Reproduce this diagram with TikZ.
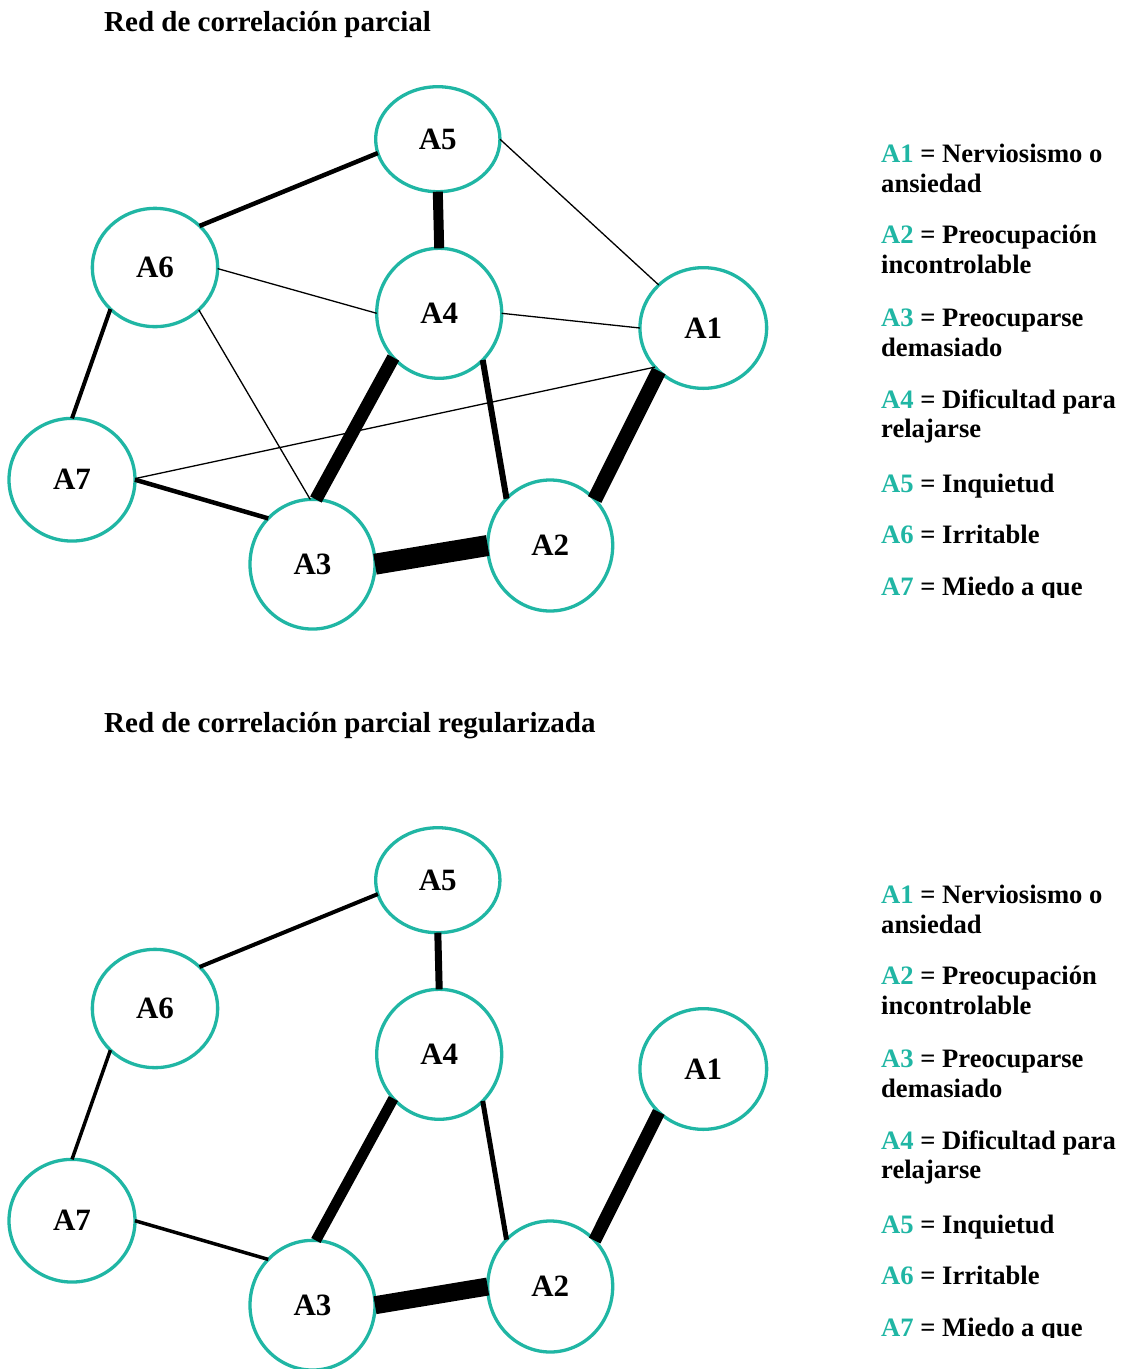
\documentclass[tikz,border=0pt]{standalone}
\usepackage{fontspec}
\setmainfont{Liberation Serif}
\usetikzlibrary{shapes.geometric}
\definecolor{nodeteal}{RGB}{32,182,164}

% the seven symptom ellipses of one network, names prefixed by #1
\newcommand\symptomnodes[1]{%
  \node[item,minimum width=124.3pt,minimum height=105pt]   (#1A5) at (437.8,139.2) {A5};
  \node[item,minimum width=125.3pt,minimum height=118.3pt] (#1A6) at (155,267.5)   {A6};
  \node[item,minimum width=125pt,minimum height=130pt]     (#1A4) at (439.2,313.3) {A4};
  \node[item,minimum width=126.7pt,minimum height=120.7pt] (#1A1) at (703.3,328)   {A1};
  \node[item,minimum width=126pt,minimum height=122.7pt]   (#1A7) at (72,479.7)    {A7};
  \node[item,minimum width=125pt,minimum height=129.7pt]   (#1A3) at (312.5,564.2) {A3};
  \node[item,minimum width=125pt,minimum height=131pt]     (#1A2) at (550.2,545.5) {A2};
}

% the key of symptom labels, names prefixed by #1
\newcommand\symptomkey[1]{%
  \node[key] (#1k1a) at (881,162)   {\textcolor{nodeteal}{A1} = Nerviosismo o};
  \node[key] (#1k1b) at (881,192)   {ansiedad};
  \node[key] (#1k2a) at (881,243.5) {\textcolor{nodeteal}{A2} = Preocupación};
  \node[key] (#1k2b) at (881,273.5) {incontrolable};
  \node[key] (#1k3a) at (881,326.5) {\textcolor{nodeteal}{A3} = Preocuparse};
  \node[key] (#1k3b) at (881,356)   {demasiado};
  \node[key] (#1k4a) at (881,408.5) {\textcolor{nodeteal}{A4} = Dificultad para};
  \node[key] (#1k4b) at (881,437.5) {relajarse};
  \node[key] (#1k5)  at (881,492)   {\textcolor{nodeteal}{A5} = Inquietud};
  \node[key] (#1k6)  at (881,543.5) {\textcolor{nodeteal}{A6} = Irritable};
  \node[key] (#1k7)  at (881,595)   {\textcolor{nodeteal}{A7} = Miedo a que};
}

\begin{document}
\begin{tikzpicture}[x=1pt,y=-1pt,
  item/.style={ellipse,draw=nodeteal,line width=3.3pt,fill=white,
    inner sep=0pt,outer sep=0pt,font=\fontsize{31}{31}\selectfont\bfseries},
  heading/.style={anchor=base west,inner sep=0pt,
    font=\fontsize{29}{29}\selectfont\bfseries},
  key/.style={anchor=base west,inner sep=0pt,
    font=\fontsize{26.6}{26.6}\selectfont\bfseries},
  link/.style={draw=black,line cap=butt}]

\useasboundingbox (0,0) rectangle (1123,1369);

% ---------- partial correlation network ----------
\node[heading] (title1) at (104,31.5) {Red de correlación parcial};
\symptomnodes{t}
\draw[link,line width=4.5pt] (tA5.193.9) -- (tA6.43.4);
\draw[link,line width=10pt]  (tA5.270.5) -- (tA4.90);
\draw[link,line width=1.3pt] (tA5.-0.7)  -- (tA1.136.3);
\draw[link,line width=1.3pt] (tA6.-1.3)  -- (tA4.180.6);
\draw[link,line width=1.3pt] (tA6.316.2) -- (tA3.92);
\draw[link,line width=4pt]   (tA6.223.8) -- (tA7.90.3);
\draw[link,line width=1.3pt] (tA4.-0.6)  -- (tA1.180.3);
\draw[link,line width=13pt]  (tA4.224.5) -- (tA3.87.9);
\draw[link,line width=6pt]   (tA4.313.4) -- (tA2.133.8);
\draw[link,line width=1.3pt] (tA1.219.8) -- (tA7.1.2);
\draw[link,line width=15pt]  (tA1.224.2) -- (tA2.46.5);
\draw[link,line width=4.5pt] (tA7.-0.9)  -- (tA3.134.3);
\draw[link,line width=21pt]  (tA3.0.2)   -- (tA2.180.5);
\begin{scope}
  \clip (860,120) rectangle (1123,597);
  \symptomkey{t}
\end{scope}

% ---------- regularized partial correlation network ----------
\node[heading] (title2) at (104,732.5) {Red de correlación parcial regularizada};
\begin{scope}[yshift=-741pt]
  \symptomnodes{b}
  \draw[link,line width=4pt]   (bA5.193.9) -- (bA6.43.4);
  \draw[link,line width=7pt]   (bA5.270.5) -- (bA4.90);
  \draw[link,line width=3.5pt] (bA6.223.8) -- (bA7.90.3);
  \draw[link,line width=10.5pt](bA4.224.5) -- (bA3.87.9);
  \draw[link,line width=5pt]   (bA4.313.4) -- (bA2.133.8);
  \draw[link,line width=13pt]  (bA1.224.2) -- (bA2.46.5);
  \draw[link,line width=3.5pt] (bA7.-0.9)  -- (bA3.134.3);
  \draw[link,line width=18pt]  (bA3.0.2)   -- (bA2.180.5);
  \begin{scope}
    \clip (860,120) rectangle (1123,596.5);
    \symptomkey{b}
  \end{scope}
\end{scope}
\end{tikzpicture}
\end{document}
